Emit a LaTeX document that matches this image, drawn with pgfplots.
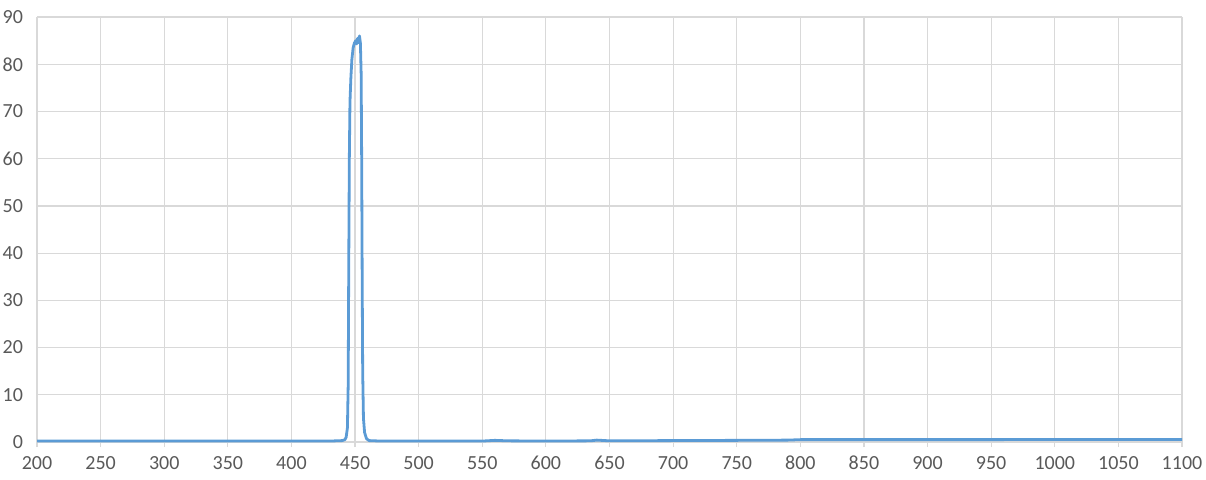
\documentclass[border=0pt]{standalone}
\usepackage{pgfplots}
\pgfplotsset{compat=1.18}
\usepackage{fontspec}
\setmainfont{Carlito}
\definecolor{gridc}{HTML}{D9D9D9}
\definecolor{linec}{HTML}{5B9BD5}
\definecolor{txt}{HTML}{595959}
\begin{document}
\begin{tikzpicture}
\useasboundingbox (-18.5pt,-18.5pt) rectangle (584.5pt,221pt);
\begin{axis}[
  at={(0,0)}, anchor=south west,
  scale only axis, width=572.5pt, height=212.5pt,
  xmin=200, xmax=1100, ymin=0, ymax=90,
  xtick={200,250,...,1100}, ytick={0,10,...,90},
  grid=major,
  grid style={gridc, line width=0.6pt},
  axis line style={draw=none},
  tick style={gridc, line width=0.6pt},
  major tick length=2.5pt,
  tick align=outside,
  xtick pos=bottom, ytick pos=left,
  ytick style={draw=none},
  font=\fontsize{10}{12}\selectfont,
  tick label style={text=txt},
  /pgf/number format/assume math mode=true,
  /pgf/number format/1000 sep={},
  yticklabel style={xshift=-1pt},
  xticklabel style={yshift=-1pt},
  clip=false,
]
\addplot[linec, line width=1.4pt, line join=round] coordinates {
(200,0.2) (250,0.2) (300,0.2) (350,0.2) (400,0.2) (430,0.2) (440,0.3)
(442,0.5) (443,1) (444,3) (444.6,12) (445,35) (445.5,60) (446,72)
(446.7,77) (447.5,81) (448.5,83.5) (449.5,84.5) (450.5,85) (451.3,84.3)
(452,85.5) (452.8,84.6) (453.5,86) (454.2,84.5) (454.8,78)
(455.2,60) (455.6,35) (456,15) (456.6,5) (457.5,2) (459,0.7) (461,0.3)
(470,0.2) (500,0.2) (550,0.2) (560,0.35) (570,0.25) (600,0.2) (635,0.25)
(640,0.4) (650,0.25) (700,0.3) (750,0.35) (790,0.4) (800,0.5) (850,0.5)
(900,0.5) (950,0.5) (1000,0.55) (1050,0.55) (1100,0.55)
};
\end{axis}
\end{tikzpicture}
\end{document}
